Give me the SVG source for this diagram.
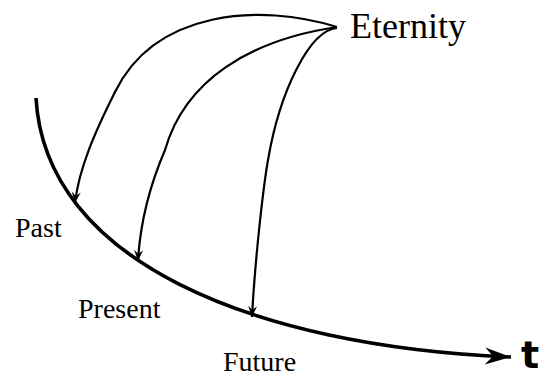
<svg xmlns="http://www.w3.org/2000/svg" width="553" height="377" viewBox="0 0 553 377">
  <style>
    .lbl { font-family: "Liberation Serif", "Times New Roman", serif; fill: #000; }
    .arc { fill: none; stroke: #000; stroke-width: 2.2; }
    .axis { fill: none; stroke: #000; stroke-width: 3.6; }
  </style>
  <defs>
    <marker id="barb" markerUnits="userSpaceOnUse" markerWidth="14" markerHeight="12" viewBox="-12 -6 14 12" refX="0" refY="0" orient="auto">
      <path d="M0,0 L-11,-4.5 L-7,0 L-11,4.5 z" fill="#000"/>
    </marker>
    <marker id="big" markerUnits="userSpaceOnUse" markerWidth="32" markerHeight="22" viewBox="-28 -11 30 22" refX="0" refY="0" orient="auto">
      <path d="M0,0 L-26,-8.5 L-18,0 L-26,8.5 z" fill="#000"/>
    </marker>
  </defs>

  <g id="connectors">
    <path id="timeline" class="axis" d="M36,98 C45,260 250,346 511,357" marker-end="url(#big)"/>
    <path id="arc-past" class="arc" d="M337,27 C260,3 155,10 115,92 C95,132 79,168 75,203" marker-end="url(#barb)"/>
    <path id="arc-present" class="arc" d="M337,27 C250,40 185,80 165,150 C150,185 140,225 138,261" marker-end="url(#barb)"/>
    <path id="arc-future" class="arc" d="M337,28 C310,30 280,90 268,160 C263,189 255,260 252,317" marker-end="url(#barb)"/>
  </g>

  <g id="eternity"><text class="lbl" x="350" y="38" font-size="36">Eternity</text></g>
  <g id="past"><text class="lbl" x="15" y="237" font-size="28">Past</text></g>
  <g id="present"><text class="lbl" x="78" y="318" font-size="28">Present</text></g>
  <g id="future"><text class="lbl" x="223" y="371" font-size="28">Future</text></g>
  <g id="t-axis"><text x="521" y="368" font-family="DejaVu Sans, sans-serif" font-weight="bold" font-size="38">t</text></g>
</svg>
